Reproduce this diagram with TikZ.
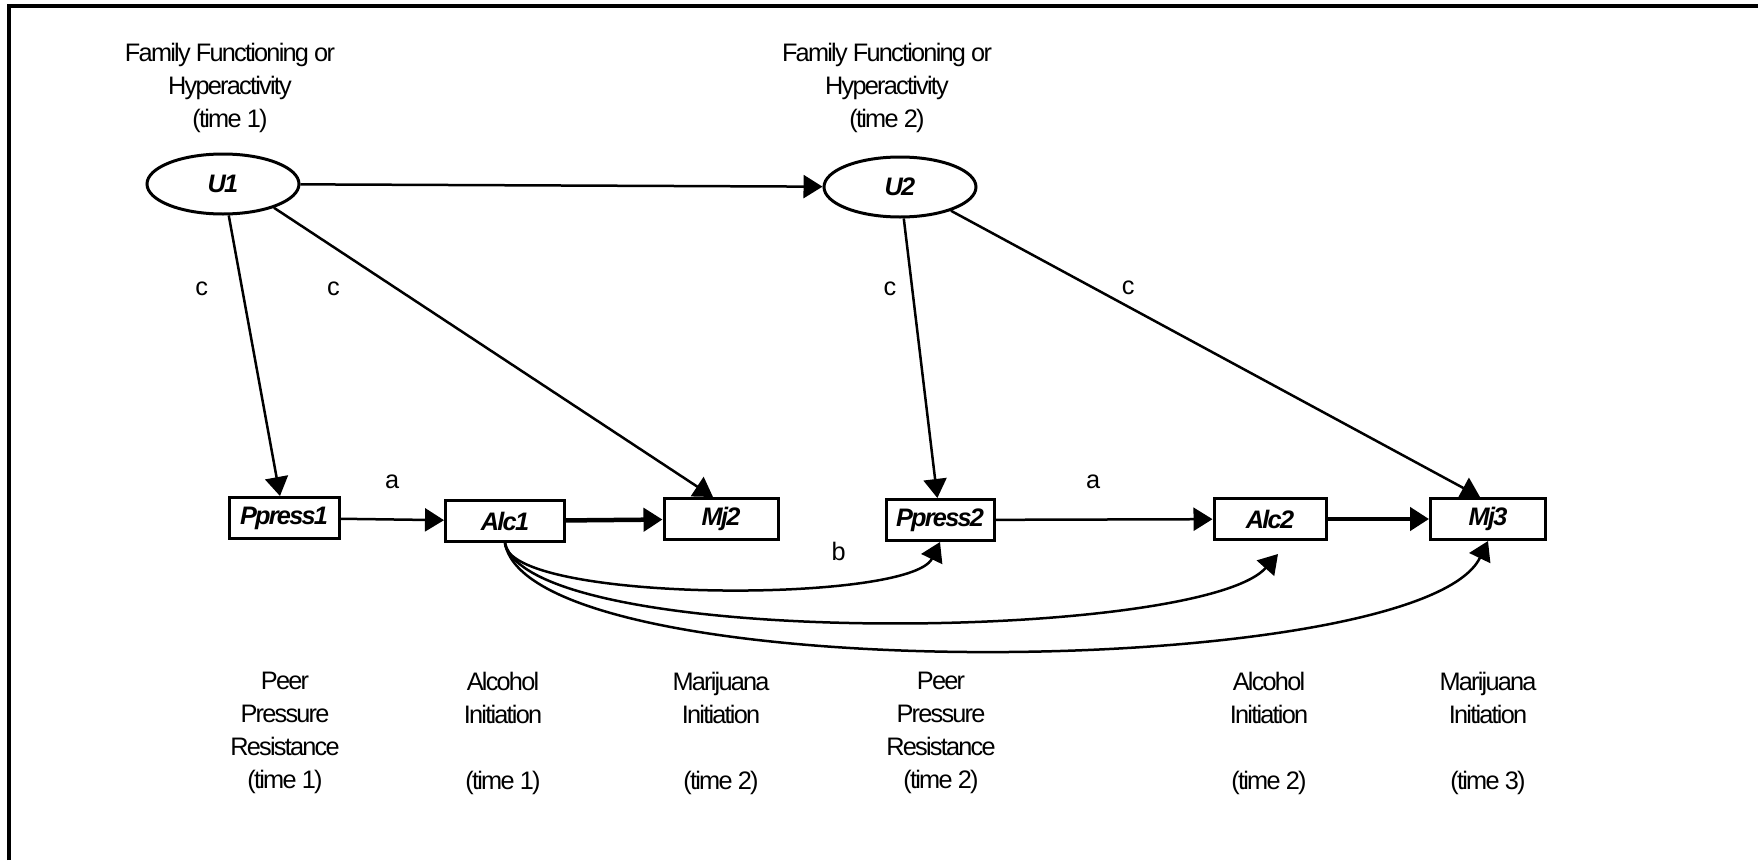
\documentclass[tikz,border=0pt]{standalone}
\usepackage{fontspec}
\setmainfont{Liberation Sans}[LetterSpace=-7]
\usetikzlibrary{shapes,calc,arrows.meta}

\begin{document}
\begin{tikzpicture}[font=\fontsize{7.2}{9.4}\selectfont,
  latent/.style={draw,ellipse,line width=0.03cm,minimum width=1.52cm,
    minimum height=0.60cm,font=\fontsize{7.2}{9.4}\selectfont\bfseries\itshape},
  obs/.style={draw,rectangle,line width=0.03cm,minimum height=0.41cm,
    inner sep=0.05cm,font=\fontsize{7.2}{9.4}\selectfont\bfseries\itshape},
  caption/.style={align=center},
  link/.style={-{Triangle[length=0.19cm,width=0.23cm]},line width=0.025cm},
  heavy/.style={link,line width=0.045cm}]
  \useasboundingbox (0,0) rectangle (17.58,-8.60);
  \draw[line width=0.04cm] (0.09,-8.60) -- (0.09,-0.06) -- (17.58,-0.06);

  \node[latent] (U1) at (2.23,-1.84) {U1};
  \node[latent] (U2) at (9.00,-1.87) {U2};
  \node[caption] (F1) at ($(U1)+(0.07,0.96)$)
  {Family Functioning or\\Hyperactivity\\(time 1)};
  \node[caption] (F2) at ($(U2)+(-0.13,0.99)$)
  {Family Functioning or\\Hyperactivity\\(time 2)};

  \node[obs,minimum width=1.10cm] (Ppress1) at (2.84,-5.18) {Ppress1};
  \node[obs,minimum width=1.19cm] (Alc1) at (5.05,-5.21) {Alc1};
  \node[obs,minimum width=1.14cm] (Mj2) at (7.21,-5.19) {Mj2};
  \node[obs,minimum width=1.08cm] (Ppress2) at (9.40,-5.20) {Ppress2};
  \node[obs,minimum width=1.12cm] (Alc2) at (12.70,-5.19) {Alc2};
  \node[obs,minimum width=1.15cm] (Mj3) at (14.88,-5.19) {Mj3};

  \node[caption] (P1) at ($(Ppress1)+(0.01,-2.15)$)
  {Peer\\Pressure\\Resistance\\(time 1)};
  \node[caption] (A1) at ($(Alc1)+(-0.02,-2.12)$)
  {Alcohol\\Initiation\\~\\(time 1)};
  \node[caption] (M2) at ($(Mj2)+(0,-2.14)$)
  {Marijuana\\Initiation\\~\\(time 2)};
  \node[caption] (P2) at ($(Ppress2)+(0.01,-2.13)$)
  {Peer\\Pressure\\Resistance\\(time 2)};
  \node[caption] (A2) at ($(Alc2)+(-0.01,-2.14)$)
  {Alcohol\\Initiation\\~\\(time 2)};
  \node[caption] (M3) at ($(Mj3)+(0,-2.14)$)
  {Marijuana\\Initiation\\~\\(time 3)};

  \coordinate (Alc2tip) at ($(Alc2.south)+(0.08,-0.13)$);

  \path[link] (U1) edge (U2);
  \path[link] (U1) edge node[pos=0.26,left=0.21cm] {c} (Ppress1);
  \path[link] (U1.-25) edge node[pos=0.28,left=0.44cm] {c} (Mj2.110);
  \path[link] (U2) edge node[pos=0.25,left=0.03cm] {c} (Ppress2);
  \path[link] (U2.-25) edge node[pos=0.27,right=0.15cm] {c} (Mj3.110);
  \path[link] (Ppress1) edge node[above=0.18cm] {a} (Alc1);
  \path[heavy] (Alc1) edge (Mj2);
  \path[link] (Ppress2) edge node[pos=0.45,above=0.18cm] {a} (Alc2);
  \path[heavy] (Alc2) edge (Mj3);
  \draw[link] (Alc1.south) .. controls +(0.02,-0.6) and +(-0.30,-0.62) .. (Ppress2.south)
    node[pos=0.71,above=0.06cm] {b};
  \draw[link] (Alc1.south) .. controls +(0.25,-1.07) and +(-0.78,-0.88) .. (Alc2tip);
  \draw[link] (Alc1.south) .. controls +(0.25,-1.47) and +(-0.68,-1.41) .. (Mj3.south);
\end{tikzpicture}
\end{document}
